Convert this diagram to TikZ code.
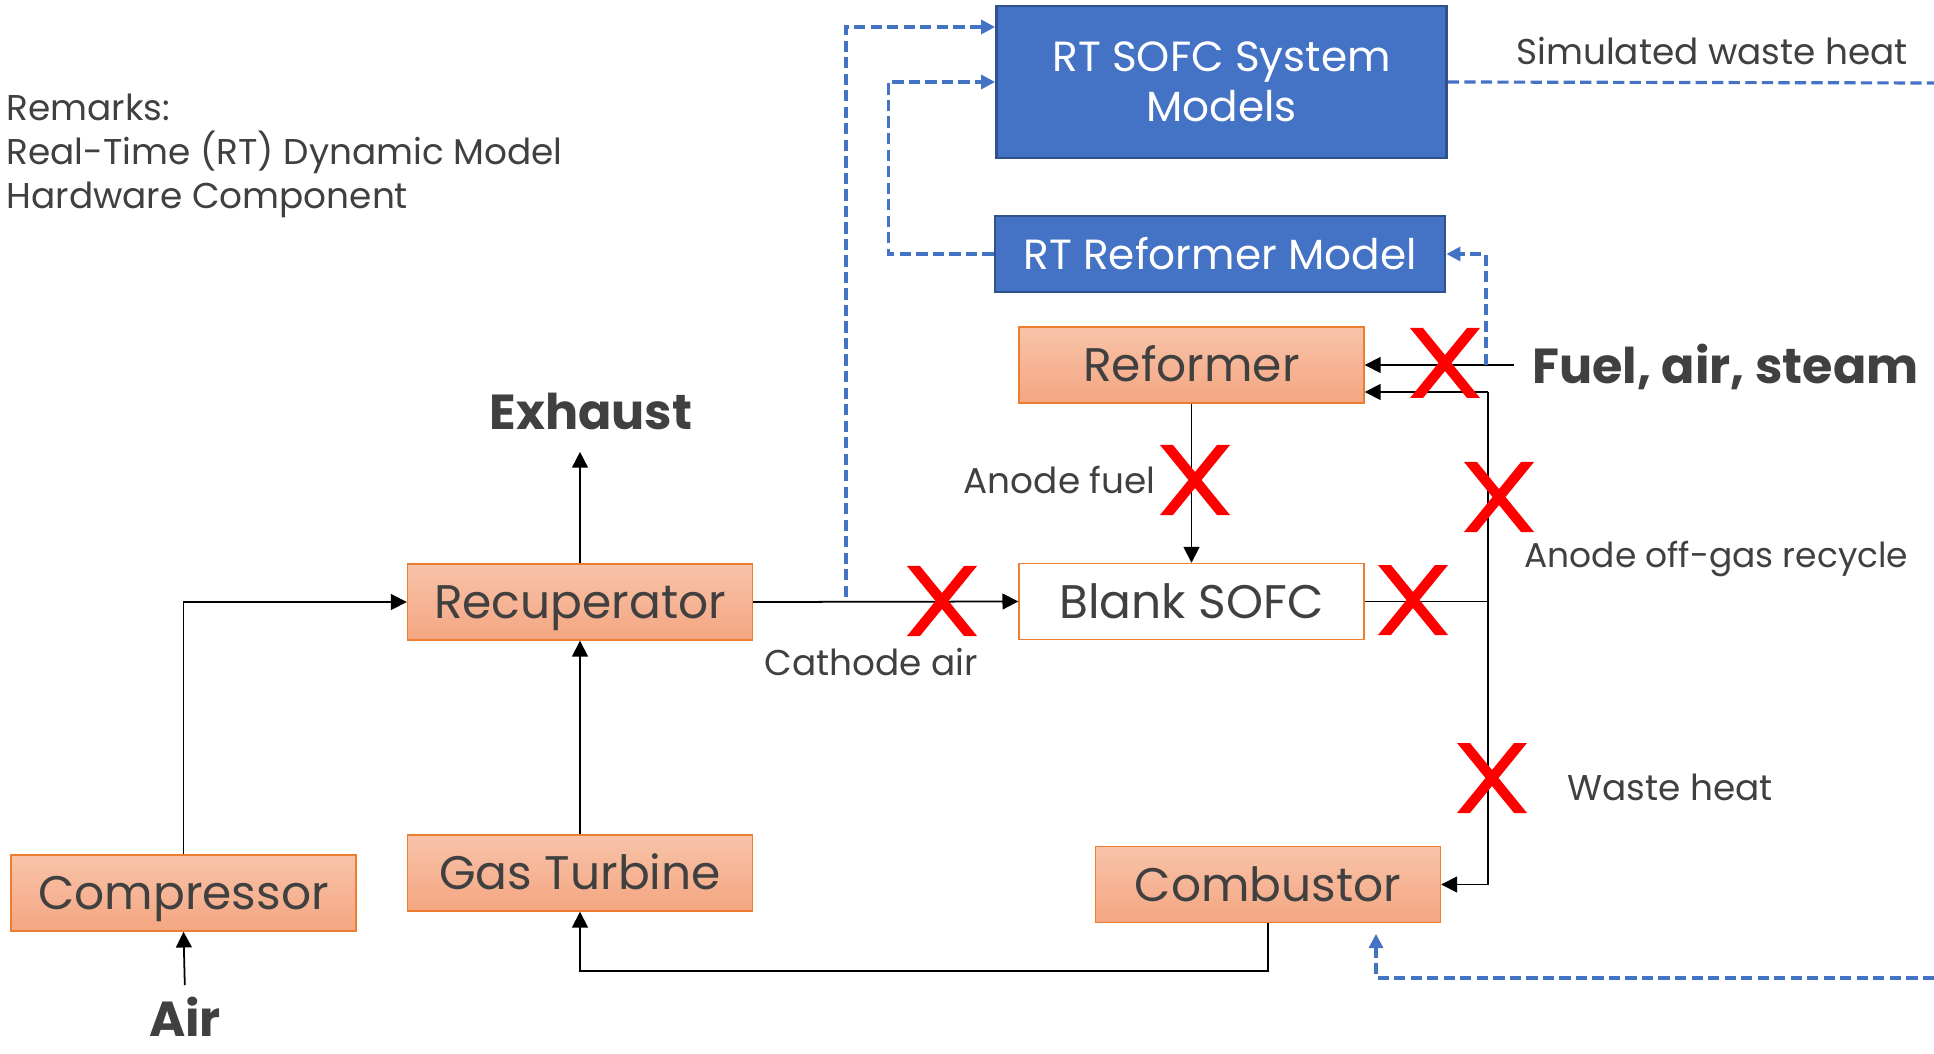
\documentclass[tikz,border=0pt]{standalone}
\usepackage{fontspec}
\setmainfont{Poppins}
\usepackage{tikz}
\usetikzlibrary{positioning}
\usetikzlibrary{arrows.meta}
\definecolor{txtgray}{HTML}{404040}
\definecolor{boxtop}{HTML}{F8C3A9}
\definecolor{boxbot}{HTML}{F4A681}
\definecolor{boxline}{HTML}{ED7D31}
\definecolor{rtblue}{HTML}{4472C4}
\definecolor{rtline}{HTML}{2F528F}
\tikzset{
  part/.style={rectangle, minimum width=3.45cm, minimum height=0.76cm, draw=boxline, top color=boxtop, bottom color=boxbot, text=txtgray, text height=9.4pt, text depth=0pt, font=\fontsize{13.4}{16}\selectfont},
  blank/.style={part, top color=white, bottom color=white},
  rtmodel/.style={rectangle, minimum width=4.5cm, draw=rtline, line width=0.8pt, fill=rtblue, text=white, align=center, font=\fontsize{12}{14.4}\selectfont},
  remark/.style={text=txtgray, font=\fontsize{10.2}{12.6}\selectfont},
  boldlabel/.style={text=txtgray, font=\fontsize{14}{16}\selectfont\bfseries},
  flow/.style={-{Triangle[length=4.5pt,width=4.5pt]}, line width=0.5pt},
  sig/.style={rtblue, line width=0.9pt, dash pattern=on 3.2pt off 1.5pt},
  sigarrow/.style={sig, -{Triangle[length=4pt,width=4pt]}},
  redx/.pic={
    \fill[red] (-0.35,-0.35) -- (-0.22,-0.35) -- (0.35,0.35) -- (0.22,0.35) -- cycle;
    \fill[red] (-0.35,0.35) -- (-0.22,0.35) -- (0.35,-0.35) -- (0.22,-0.35) -- cycle;
  }
}

\begin{document}
\begin{tikzpicture}
	\useasboundingbox (0,0) rectangle (19.34,10.53);
	\node[remark, anchor=west, align=left, inner sep=0pt] (remarks) at (0.06,8.97) {Remarks:\\Real-Time (RT) Dynamic Model\\Hardware Component};

	\node[rtmodel, minimum height=1.52cm] (sofcmod) at (12.215,9.71) {RT SOFC System\\Models};
	\node[rtmodel, minimum height=0.76cm] (refmod) at (12.20,7.99) {RT Reformer Model};

	\node[part] (reformer) at (11.915,6.88) {Reformer};
	\node[blank] (sofc) at (11.915,4.515) {Blank SOFC};
	\node[part] (recup) at (5.80,4.51) {Recuperator};
	\node[part] (gt) at (5.80,1.80) {Gas Turbine};
	\node[part] (comp) at (1.835,1.60) {Compressor};
	\node[part] (comb) at (12.68,1.685) {Combustor};

	\node[boldlabel, inner sep=1pt] (air) at (1.85,0.36) {Air};
	\node[boldlabel] (exhaust) at (5.91,6.42) {Exhaust};
	\node[boldlabel, anchor=west] (fuel) at (15.20,6.86) {Fuel, air, steam};
	\node[remark] (cathode) at (8.71,3.91) {Cathode air};
	\node[remark, anchor=east] (anodefuel) at (11.68,5.73) {Anode fuel};
	\node[remark, anchor=west, font=\fontsize{9.8}{12}\selectfont] (offgas) at (15.12,4.94) {Anode off-gas recycle};
	\node[remark, anchor=west] (waste) at (15.55,2.66) {Waste heat};
	\node[remark, anchor=west] (simwaste) at (15.04,10.02) {Simulated waste heat};

	\coordinate (fuelin) at (15.14,6.88);
	\coordinate (recycle) at (14.88,6.61);
	\coordinate (tap) at (8.46,4.56);
	\coordinate (ftap) at (14.86,6.88);
	\coordinate (edgeA) at (19.34,9.70);
	\coordinate (edgeB) at (19.34,0.75);
	\coordinate (combin) at (13.76,1.19);
	\coordinate (gtbend) at (12.68,0.82);

	\draw[flow, shorten <=0.08cm] (air.north) -- (comp.south);
	\draw[flow] (comp.north) |- (recup.west);
	\draw[flow, shorten >=0.1cm] (recup.north) -- (recup.north |- exhaust.south);
	\draw[flow] (gt.north) -- (recup.south);
	\draw[flow] (comb.south) -- (gtbend) -| (gt.south);
	\draw[flow] (recup.east) -- (sofc.west);
	\draw[flow] (reformer.south) -- (sofc.north);
	\draw[flow] (fuelin) -- (reformer.east |- fuelin);
	\draw (sofc.east) -- (sofc.east -| recycle);
	\draw[flow] (recycle) -- (reformer.east |- recycle);
	\draw[flow] (recycle) |- (comb.east);

	\draw[sigarrow] (tap) |- ([yshift=0.55cm]sofcmod.west);
	\draw[sigarrow] (refmod.west) -- ++(-1.05,0) |- (sofcmod.west);
	\draw[sig] (sofcmod.east) -- (edgeA);
	\draw[sigarrow] (edgeB) -| (combin);
	\draw[sigarrow] (ftap) |- (refmod.east);

	\pic at (9.42,4.52) {redx};
	\pic at (14.45,6.90) {redx};
	\pic at (11.95,5.73) {redx};
	\pic at (14.99,5.56) {redx};
	\pic at (14.13,4.53) {redx};
	\pic at (14.92,2.75) {redx};
\end{tikzpicture}
\end{document}
